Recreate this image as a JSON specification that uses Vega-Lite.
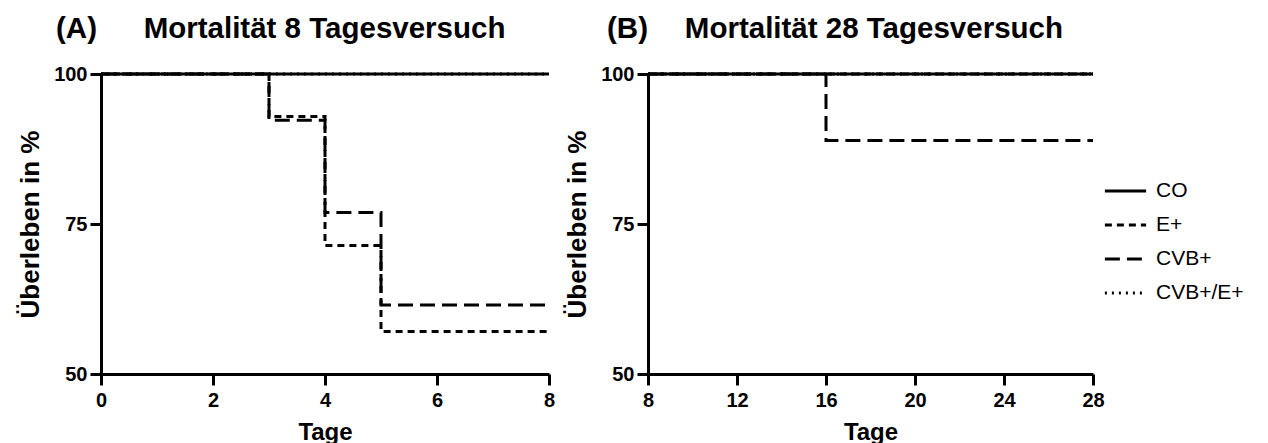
{
  "$schema": "https://vega.github.io/schema/vega-lite/v6.json",
  "padding": {"left": 17, "top": 13, "right": 5, "bottom": 5},
  "bounds": "flush",
  "spacing": 99,
  "datasets": {
    "surv": [
      {"panel": "A", "gruppe": "E+", "tage": 0, "pct": 100},
      {"panel": "A", "gruppe": "E+", "tage": 3, "pct": 92.9},
      {"panel": "A", "gruppe": "E+", "tage": 4, "pct": 71.4},
      {"panel": "A", "gruppe": "E+", "tage": 5, "pct": 57.1},
      {"panel": "A", "gruppe": "E+", "tage": 8, "pct": 57.1},
      {"panel": "A", "gruppe": "CVB+", "tage": 0, "pct": 100},
      {"panel": "A", "gruppe": "CVB+", "tage": 3, "pct": 92.3},
      {"panel": "A", "gruppe": "CVB+", "tage": 4, "pct": 76.9},
      {"panel": "A", "gruppe": "CVB+", "tage": 5, "pct": 61.5},
      {"panel": "A", "gruppe": "CVB+", "tage": 8, "pct": 61.5},
      {"panel": "A", "gruppe": "CVB+/E+", "tage": 0, "pct": 100},
      {"panel": "A", "gruppe": "CVB+/E+", "tage": 8, "pct": 100},
      {"panel": "A", "gruppe": "CO", "tage": 0, "pct": 100},
      {"panel": "A", "gruppe": "CO", "tage": 8, "pct": 100},
      {"panel": "B", "gruppe": "E+", "tage": 8, "pct": 100},
      {"panel": "B", "gruppe": "E+", "tage": 28, "pct": 100},
      {"panel": "B", "gruppe": "CVB+/E+", "tage": 8, "pct": 100},
      {"panel": "B", "gruppe": "CVB+/E+", "tage": 28, "pct": 100},
      {"panel": "B", "gruppe": "CVB+", "tage": 8, "pct": 100},
      {"panel": "B", "gruppe": "CVB+", "tage": 16, "pct": 88.9},
      {"panel": "B", "gruppe": "CVB+", "tage": 28, "pct": 88.9},
      {"panel": "B", "gruppe": "CO", "tage": 8, "pct": 100},
      {"panel": "B", "gruppe": "CO", "tage": 28, "pct": 100}
    ]
  },
  "config": {
    "font": "Liberation Sans",
    "view": {"stroke": null},
    "axis": {
      "domainColor": "black", "domainWidth": 3, "tickColor": "black", "tickWidth": 3, "tickSize": 11,
      "labelFont": "Liberation Sans", "labelFontWeight": "bold", "labelFontSize": 20, "labelColor": "black", "labelPadding": 3,
      "titleFont": "Liberation Sans", "titleFontWeight": "bold", "titleColor": "black",
      "grid": false, "labelFlush": false, "labelOverlap": false
    },
    "axisX": {"titleFontSize": 24, "titlePadding": 10, "labelPadding": 5},
    "axisY": {"titleFontSize": 26, "titlePadding": 10},
    "title": {"font": "Liberation Sans", "fontSize": 29.5, "fontWeight": "bold", "color": "black", "anchor": "start", "frame": "group", "baseline": "alphabetic"}
  },
  "hconcat": [
    {
      "width": 448, "height": 300,
      "title": {"text": "(A)\u2003\u2002\u200aMortalität 8 Tagesversuch", "dx": -45, "offset": 20},
      "data": {"name": "surv"},
      "transform": [{"filter": "datum.panel === 'A'"}],
      "mark": {"type": "line", "interpolate": "step-after", "strokeWidth": 3, "color": "black", "strokeCap": "butt"},
      "encoding": {
        "x": {"field": "tage", "type": "quantitative", "scale": {"domain": [0, 8], "nice": false, "zero": false}, "axis": {"values": [0, 2, 4, 6, 8], "title": "Tage"}},
        "y": {"field": "pct", "type": "quantitative", "scale": {"domain": [50, 100], "nice": false, "zero": false}, "axis": {"values": [50, 75, 100], "title": "Überleben in %"}},
        "strokeDash": {
          "field": "gruppe", "type": "nominal",
          "scale": {"domain": ["CO", "E+", "CVB+", "CVB+/E+"], "range": [[1, 0], [7, 5], [15, 7], [2, 5]]},
          "legend": {"title": null, "orient": "none", "legendX": 1002, "legendY": 100, "symbolType": "stroke", "symbolStrokeWidth": 3, "symbolStrokeColor": "black", "symbolSize": 1700, "labelFont": "Liberation Sans", "labelFontSize": 21, "labelColor": "black", "labelOffset": 8, "clipHeight": 34, "rowPadding": 0}
        }
      }
    },
    {
      "width": 445, "height": 300,
      "title": {"text": "(B)\u2003\u2005Mortalität 28 Tagesversuch", "dx": -41, "offset": 20},
      "data": {"name": "surv"},
      "transform": [{"filter": "datum.panel === 'B'"}],
      "mark": {"type": "line", "interpolate": "step-after", "strokeWidth": 3, "color": "black", "strokeCap": "butt"},
      "encoding": {
        "x": {"field": "tage", "type": "quantitative", "scale": {"domain": [8, 28], "nice": false, "zero": false}, "axis": {"values": [8, 12, 16, 20, 24, 28], "title": "Tage"}},
        "y": {"field": "pct", "type": "quantitative", "scale": {"domain": [50, 100], "nice": false, "zero": false}, "axis": {"values": [50, 75, 100], "title": "Überleben in %"}},
        "strokeDash": {
          "field": "gruppe", "type": "nominal",
          "scale": {"domain": ["CO", "E+", "CVB+", "CVB+/E+"], "range": [[1, 0], [7, 5], [15, 7], [2, 5]]},
          "legend": {"title": null, "orient": "none", "legendX": 1002, "legendY": 100, "symbolType": "stroke", "symbolStrokeWidth": 3, "symbolStrokeColor": "black", "symbolSize": 1700, "labelFont": "Liberation Sans", "labelFontSize": 21, "labelColor": "black", "labelOffset": 8, "clipHeight": 34, "rowPadding": 0}
        }
      }
    }
  ]
}
